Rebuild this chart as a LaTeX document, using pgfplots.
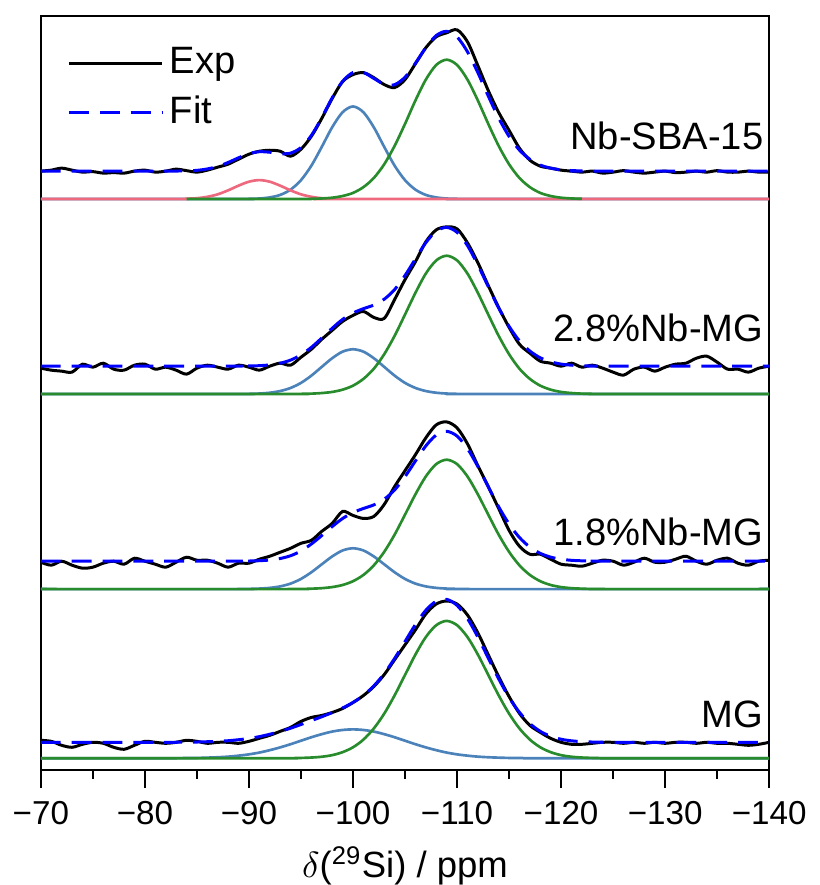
\documentclass[border=0pt]{standalone}
\usepackage{pgfplots}
\pgfplotsset{compat=1.18}
\usepackage{fontspec}
\setmainfont{Liberation Sans}

\definecolor{cgreen}{RGB}{40,140,45}
\definecolor{cblue}{RGB}{75,130,185}
\definecolor{cred}{RGB}{238,105,125}

\pgfplotsset{
  comp/.style={smooth, line width=0.8pt, forget plot},
  expst/.style={smooth, black, line width=0.9pt},
  fitst/.style={smooth, blue, line width=0.9pt, dash pattern=on 6pt off 3.3pt},
}

\begin{document}
\fontsize{11.5}{13.8}\selectfont
\begin{tikzpicture}
\begin{axis}[
  scale only axis,
  width=219.6pt, height=227.4pt,
  x dir=reverse,
  xmin=-140, xmax=-70,
  ymin=5, ymax=763,
  xtick={-70,-80,-90,-100,-110,-120,-130,-140},
  xticklabels={−70,−80,−90,−100,−110,−120,−130,−140},
  minor x tick num=1,
  ytick=\empty,
  xtick pos=left,
  tick align=outside,
  major tick length=5.4pt,
  minor tick length=2.7pt,
  axis line style={line width=0.6pt},
  every tick/.style={black, line width=0.6pt},
  xticklabel style={font=\fontsize{10}{12}\selectfont, yshift=-0.1pt},
  xlabel={$\delta$(\textsuperscript{29}Si) / ppm},
  xlabel style={at={(rel axis cs:0.5,0)}, anchor=center, inner sep=0pt, yshift=-28.8pt, font=\fontsize{11}{13}\selectfont},
  legend style={draw=none, fill=none, at={(rel axis cs:0.022,0.977)}, anchor=north west,
    row sep=1.1pt, font=\fontsize{11.5}{13.8}\selectfont},
  legend cell align=left,
  legend image code/.code={\draw[#1] (0pt,0pt) -- (28pt,0pt);},
]
\addlegendimage{black, line width=0.9pt}
\addlegendentry{Exp}
\addlegendimage{blue, line width=0.9pt, dash pattern=on 6pt off 3.3pt}
\addlegendentry{Fit}

% ---------- Nb-SBA-15 ----------
\addplot[comp, cblue] coordinates {
(-70,579) (-89,579) (-90,579.2) (-91,579.5) (-92,580.6) (-93,583.1) (-94,588.4) (-95,597.9) (-96,612.5) (-97,631.4) (-98,651.1) (-99,666.2) (-100,672) (-101,666.2) (-102,651.1) (-103,631.4) (-104,612.5) (-105,597.9) (-106,588.4) (-107,583.1) (-108,580.6) (-109,579.5) (-110,579.2) (-111,579) (-140,579)
};
\addplot[comp, cred] coordinates {
(-70,579) (-83,579) (-84,579.3) (-85,579.8) (-86,581.2) (-87,583.7) (-88,587.7) (-89,592.4) (-90,596.4) (-91,598) (-92,596.4) (-93,592.4) (-94,587.7) (-95,583.7) (-96,581.2) (-97,579.8) (-98,579.3) (-99,579) (-140,579)
};
\addplot[comp, cgreen] coordinates {
(-84,579) (-95,579) (-96,579.2) (-97,579.55) (-98,580.3) (-99,582.0) (-100,585.1) (-101,590.9) (-102,600.1) (-103,613.9) (-104,632.4) (-105,654.5) (-106,678.0) (-107,699.0) (-108,713.7) (-109,719) (-110,713.7) (-111,699.0) (-112,678.0) (-113,654.5) (-114,632.4) (-115,613.9) (-116,600.1) (-117,590.9) (-118,585.1) (-119,582.0) (-120,580.3) (-121,579.55) (-122,579.2)
};
\addplot[expst, forget plot] coordinates {
(-70,607) (-71,608) (-72,610) (-73,608) (-74,606) (-75,606.5) (-76,605) (-77,605.5) (-78,605) (-79,607) (-80,608) (-81,606) (-82,607) (-83,609) (-84,607.5) (-85,606) (-86,608) (-87,611) (-88,614) (-89,619) (-90,624) (-91,627) (-92,628) (-93,627) (-94,622) (-95,629) (-96,642) (-97,660) (-98,680) (-99,697) (-100,704) (-101,706) (-102,701) (-103,694) (-104,691) (-105,699) (-106,715) (-107,731) (-108,742) (-109,746) (-110,749) (-111,737) (-112,713) (-113,688) (-114,666) (-115,648) (-116,630) (-117,618) (-118,612) (-119,610) (-120,608) (-121,607) (-122,606) (-123,607) (-124,605) (-125,606) (-126,607.5) (-127,606) (-128,605) (-129,606) (-130,607) (-131,605.5) (-132,606) (-133,607) (-134,606) (-135,607.5) (-136,606) (-137,606) (-138,607) (-139,606) (-140,606)
};
\addplot[fitst, forget plot] coordinates {
(-70,607) (-82,607) (-83,607.1) (-84,607.3) (-85,607.8) (-86,609.2) (-87,611.7) (-88,615.7) (-89,620.4) (-90,624.6) (-91,626.5) (-92,626.0) (-93,624.5) (-94,625.1) (-95,630.7) (-96,642.9) (-97,660.8) (-98,680.7) (-99,697.2) (-100,706.1) (-101,706.1) (-102,700.2) (-103,694.3) (-104,693.9) (-105,701.4) (-106,715.4) (-107,731.1) (-108,743.3) (-109,747.5) (-110,741.9) (-111,727.0) (-112,706.0) (-113,682.5) (-114,660.4) (-115,641.9) (-116,628.1) (-117,618.9) (-118,613.1) (-119,610.0) (-120,608.3) (-121,607.6) (-122,607.2) (-123,607) (-140,607)
};

% ---------- 2.8%Nb-MG ----------
\addplot[comp, cblue] coordinates {
(-70,383) (-89,383) (-90,383.2) (-91,383.5) (-92,384.3) (-93,386.0) (-94,389.1) (-95,394.2) (-96,401.5) (-97,410.3) (-98,419.0) (-99,425.6) (-100,428) (-101,425.6) (-102,419.0) (-103,410.3) (-104,401.5) (-105,394.2) (-106,389.1) (-107,386.0) (-108,384.3) (-109,383.5) (-110,383.2) (-111,383) (-140,383)
};
\addplot[comp, cgreen] coordinates {
(-70,383) (-94,383) (-95,383.2) (-96,383.4) (-97,384.0) (-98,385.1) (-99,387.4) (-100,391.4) (-101,398.2) (-102,408.4) (-103,423.0) (-104,441.5) (-105,462.9) (-106,484.7) (-107,504.1) (-108,517.3) (-109,522) (-110,517.3) (-111,504.1) (-112,484.7) (-113,462.9) (-114,441.5) (-115,423.0) (-116,408.4) (-117,398.2) (-118,391.4) (-119,387.4) (-120,385.1) (-121,384.0) (-122,383.4) (-123,383.2) (-124,383) (-140,383)
};
\addplot[expst, forget plot] coordinates {
(-70,409) (-71,407) (-72,406) (-73,405) (-74,413) (-75,410) (-76,414) (-77,408) (-78,407) (-79,412) (-80,413) (-81,408) (-82,410) (-83,407) (-84,403) (-85,409) (-86,412) (-87,410) (-88,408) (-89,412) (-90,410) (-91,407) (-92,411) (-93,414) (-94,412) (-95,420) (-96,428) (-97,438) (-98,447) (-99,456) (-100,462) (-101,466) (-102,460) (-103,459) (-104,478) (-105,498) (-106,516) (-107,536) (-108,548) (-109,551) (-110,549) (-111,535) (-112,515) (-113,492) (-114,470) (-115,450) (-116,433) (-117,424) (-118,416) (-119,414) (-120,411) (-121,414) (-122,410) (-123,412) (-124,409) (-125,405) (-126,402) (-127,408) (-128,410) (-129,406) (-130,410) (-131,413) (-132,414) (-133,419) (-134,421) (-135,415) (-136,408) (-137,408) (-138,405) (-139,409) (-140,411)
};
\addplot[fitst, forget plot] coordinates {
(-70,411) (-88,411) (-89,411.1) (-90,411.2) (-91,411.5) (-92,412.3) (-93,414.0) (-94,417.1) (-95,422.4) (-96,429.9) (-97,439.3) (-98,449.1) (-99,458.0) (-100,464.4) (-101,468.8) (-102,472.4) (-103,478.3) (-104,488.0) (-105,502.1) (-106,518.8) (-107,535.1) (-108,546.6) (-109,550.5) (-110,545.5) (-111,532.2) (-112,512.7) (-113,490.9) (-114,469.5) (-115,451.0) (-116,436.4) (-117,426.2) (-118,419.4) (-119,415.4) (-120,413.1) (-121,412.0) (-122,411.4) (-123,411.2) (-124,411) (-140,411)
};

% ---------- 1.8%Nb-MG ----------
\addplot[comp, cblue] coordinates {
(-70,187) (-89,187) (-90,187.2) (-91,187.5) (-92,188.2) (-93,189.7) (-94,192.5) (-95,197.2) (-96,203.9) (-97,211.9) (-98,219.8) (-99,225.8) (-100,228) (-101,225.8) (-102,219.8) (-103,211.9) (-104,203.9) (-105,197.2) (-106,192.5) (-107,189.7) (-108,188.2) (-109,187.5) (-110,187.2) (-111,187) (-140,187)
};
\addplot[comp, cgreen] coordinates {
(-70,187) (-94,187) (-95,187.1) (-96,187.4) (-97,187.9) (-98,189.0) (-99,191.1) (-100,194.9) (-101,201.2) (-102,210.8) (-103,224.4) (-104,241.7) (-105,261.8) (-106,282.2) (-107,300.2) (-108,312.6) (-109,317) (-110,312.6) (-111,300.2) (-112,282.2) (-113,261.8) (-114,241.7) (-115,224.4) (-116,210.8) (-117,201.2) (-118,194.9) (-119,191.1) (-120,189.0) (-121,187.9) (-122,187.4) (-123,187.1) (-124,187) (-140,187)
};
\addplot[expst, forget plot] coordinates {
(-70,214) (-71,211) (-72,215) (-73,211) (-74,208) (-75,209) (-76,213) (-77,215) (-78,212) (-79,218) (-80,215) (-81,212) (-82,209) (-83,214) (-84,219) (-85,216) (-86,216) (-87,213) (-88,209) (-89,213) (-90,213) (-91,217) (-92,220) (-93,224) (-94,228) (-95,233) (-96,236) (-97,245) (-98,253) (-99,265) (-100,261) (-101,258) (-102,260) (-103,272) (-104,290) (-105,306) (-106,322) (-107,339) (-108,352) (-109,355) (-110,349) (-111,333) (-112,311) (-113,290) (-114,268) (-115,246) (-116,230) (-117,222) (-118,222) (-119,217) (-120,212) (-121,211) (-122,210) (-123,213) (-124,216) (-125,215) (-126,211) (-127,214) (-128,218) (-129,214) (-130,214) (-131,217) (-132,220) (-133,215) (-134,212) (-135,216) (-136,218) (-137,213) (-138,211) (-139,215) (-140,216)
};
\addplot[fitst, forget plot] coordinates {
(-70,215) (-88,215) (-89,215.1) (-90,215.2) (-91,215.5) (-92,216.2) (-93,217.7) (-94,220.5) (-95,225.3) (-96,232.3) (-97,240.8) (-98,249.8) (-99,257.9) (-100,263.9) (-101,268.0) (-102,271.6) (-103,277.3) (-104,286.6) (-105,300.0) (-106,315.7) (-107,330.9) (-108,341.8) (-109,345.5) (-110,340.8) (-111,328.2) (-112,310.2) (-113,289.8) (-114,269.7) (-115,252.4) (-116,238.8) (-117,229.2) (-118,222.9) (-119,219.1) (-120,217.0) (-121,215.9) (-122,215.4) (-123,215.1) (-124,215) (-140,215)
};

% ---------- MG ----------
\addplot[comp, cblue] coordinates {
(-70,17) (-82,17) (-83,17.1) (-84,17.2) (-85,17.3) (-86,17.6) (-87,18.0) (-88,18.6) (-89,19.6) (-90,20.9) (-91,22.7) (-92,25.1) (-93,27.9) (-94,31.1) (-95,34.6) (-96,38.1) (-97,41.2) (-98,43.8) (-99,45.4) (-100,46) (-101,45.4) (-102,43.8) (-103,41.2) (-104,38.1) (-105,34.6) (-106,31.1) (-107,27.9) (-108,25.1) (-109,22.7) (-110,20.9) (-111,19.6) (-112,18.6) (-113,18.0) (-114,17.6) (-115,17.3) (-116,17.2) (-117,17.1) (-118,17) (-140,17)
};
\addplot[comp, cgreen] coordinates {
(-70,17) (-93,17) (-94,17.1) (-95,17.3) (-96,17.7) (-97,18.5) (-98,20.1) (-99,23.1) (-100,28.0) (-101,35.7) (-102,46.9) (-103,61.8) (-104,80.2) (-105,100.7) (-106,121.2) (-107,138.8) (-108,150.7) (-109,155) (-110,150.7) (-111,138.8) (-112,121.2) (-113,100.7) (-114,80.2) (-115,61.8) (-116,46.9) (-117,35.7) (-118,28.0) (-119,23.1) (-120,20.1) (-121,18.5) (-122,17.7) (-123,17.3) (-124,17.1) (-125,17) (-140,17)
};
\addplot[expst, forget plot] coordinates {
(-70,35) (-71,34) (-72,30) (-73,28) (-74,31) (-75,33) (-76,32) (-77,28) (-78,26) (-79,30) (-80,34) (-81,33) (-82,32) (-83,33) (-84,35) (-85,34) (-86,32) (-87,33) (-88,33) (-89,32) (-90,34) (-91,37) (-92,40) (-93,44) (-94,48) (-95,54) (-96,58) (-97,60) (-98,63) (-99,67) (-100,73) (-101,80) (-102,89) (-103,101) (-104,116) (-105,131) (-106,146) (-107,162) (-108,172) (-109,175) (-110,172) (-111,161) (-112,143) (-113,121) (-114,99) (-115,79) (-116,62) (-117,50) (-118,43) (-119,37) (-120,33) (-121,31) (-122,31) (-123,32) (-124,33) (-125,33) (-126,32) (-127,33) (-128,32) (-129,33) (-130,32) (-131,33) (-132,33) (-133,32) (-134,33) (-135,32) (-136,32) (-137,31) (-138,30) (-139,31) (-140,33)
};
\addplot[fitst, forget plot] coordinates {
(-70,33) (-82,33) (-83,33.1) (-84,33.2) (-85,33.3) (-86,33.6) (-87,34.0) (-88,34.6) (-89,35.6) (-90,36.9) (-91,38.7) (-92,41.1) (-93,43.9) (-94,47.2) (-95,50.9) (-96,54.8) (-97,58.7) (-98,62.9) (-99,67.5) (-100,73.0) (-101,80.1) (-102,89.7) (-103,102.0) (-104,117.3) (-105,134.3) (-106,151.3) (-107,165.7) (-108,174.8) (-109,176.7) (-110,170.6) (-111,157.4) (-112,138.8) (-113,117.7) (-114,96.8) (-115,78.1) (-116,63.1) (-117,51.8) (-118,44.0) (-119,39.1) (-120,36.1) (-121,34.5) (-122,33.7) (-123,33.3) (-124,33.1) (-125,33) (-140,33)
};

\node[anchor=east, inner sep=0pt] at (axis cs:-139.5,642) {Nb-SBA-15};
\node[anchor=east, inner sep=0pt] at (axis cs:-139.5,449) {2.8\%Nb-MG};
\node[anchor=east, inner sep=0pt] at (axis cs:-139.5,244) {1.8\%Nb-MG};
\node[anchor=east, inner sep=0pt] at (axis cs:-139.5,61) {MG};
\end{axis}
\path ([xshift=-11.7pt,yshift=-33.3pt]current axis.south west) rectangle ([xshift=12.6pt,yshift=4.8pt]current axis.north east);
\end{tikzpicture}
\end{document}
